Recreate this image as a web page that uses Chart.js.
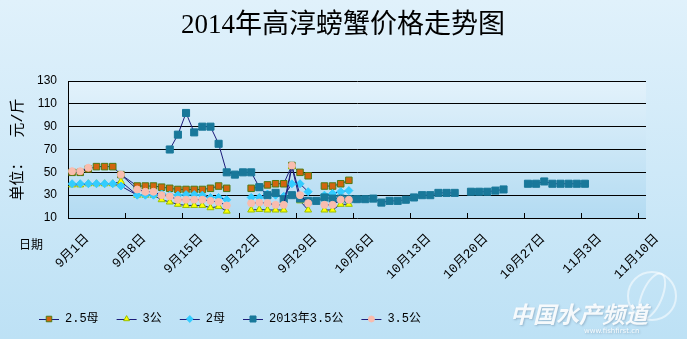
<!DOCTYPE html>
<html>
<head>
<meta charset="utf-8">
<script src="https://cdn.jsdelivr.net/npm/chart.js@4.4.1/dist/chart.umd.min.js"></script>
<style>
  html, body { margin: 0; padding: 0; }
  body { width: 687px; height: 339px; overflow: hidden; }
</style>
</head>
<body>
<canvas id="price-chart" width="687" height="339"></canvas>
<script>
/* DATA */

// 报价日期（9/8 中秋无报价）
var dates = [
    '9/1', '9/2', '9/3', '9/4', '9/5', '9/6', '9/7',
    '9/9', '9/10', '9/11', '9/12', '9/13', '9/14', '9/15',
    '9/16', '9/17', '9/18', '9/19', '9/20', '9/21', '9/22',
    '9/23', '9/24', '9/25', '9/26', '9/27', '9/28', '9/29',
    '9/30', '10/1', '10/2', '10/3', '10/4', '10/5', '10/6',
    '10/7', '10/8', '10/9', '10/10', '10/11', '10/12', '10/13',
    '10/14', '10/15', '10/16', '10/17', '10/18', '10/19', '10/20',
    '10/21', '10/22', '10/23', '10/24', '10/25', '10/26', '10/27',
    '10/28', '10/29', '10/30', '10/31', '11/1', '11/2', '11/3'
];

var tickLabels = ['9月1日', '9月8日', '9月15日', '9月22日', '9月29日', '10月6日',
    '10月13日', '10月20日', '10月27日', '11月3日', '11月10日'];

var _ = null;

var mu25 = [
    50, 50, 53, 55, 55, 55, 48,
    38, 38, 38, 37, 36, 35, 35,
    35, 35, 36, 38, 36, _, _,
    36, 37, 39, 40, 40, 56, 50,
    47, _, 38, 38, 40, 43, _,
    _, _, _, _, _, _, _,
    _, _, _, _, _, _, _,
    _, _, _, _, _, _, _,
    _, _, _, _, _, _, _
];

var gong3 = [
    39, 39, 40, 40, 40, 40, 42,
    30, 30, 30, 26, 24, 22, 21,
    21, 21, 19, 20, 16, _, _,
    17, 17.5, 17, 17, 17, 55, 25,
    17, _, 17, 17, 22, 22, _,
    _, _, _, _, _, _, _,
    _, _, _, _, _, _, _,
    _, _, _, _, _, _, _,
    _, _, _, _, _, _, _
];

var mu2 = [
    40, 40, 40, 40, 40, 40, 38,
    30, 30, 30, 31, 30, 30, 30.5,
    30.5, 30, 28, 28, 26, _, _,
    28, 28, 31, 30, 29, 40, 40,
    33, _, 30, 31.5, 33, 34, _,
    _, _, _, _, _, _, _,
    _, _, _, _, _, _, _,
    _, _, _, _, _, _, _,
    _, _, _, _, _, _, _
];

var gong35_2013 = [
    _, _, _, _, _, _, _,
    _, _, _, _, 70, 83, 102,
    85, 90, 90, 75, 50, 48, 50,
    50, 37, 30, 32, 26.5, 30, 27,
    25, 25, 28, 27, 27, 26.5, 26.5,
    26.5, 27, 23.5, 25, 25, 26, 28,
    30, 30, 32, 32, 32, _, 33,
    33, 33, 34, 35, _, _, 40,
    40, 42, 40, 40, 40, 40, 40
];

var gong35 = [
    51, 51, 54, _, _, _, 48,
    35, 33, 33, 30, 29, 26, 26,
    26, 26, 25, 24, 21, _, _,
    23, 23.5, 23, 21.5, 21.5, 56, 30,
    23, _, 21.5, 21.5, 26, 26, _,
    _, _, _, _, _, _, _,
    _, _, _, _, _, _, _,
    _, _, _, _, _, _, _,
    _, _, _, _, _, _, _
];

/* HELPERS */

// 距 9月1日 的天数
function dayOf(s) {
    var p = s.split('/');
    return (Date.UTC(2014, p[0] - 1, +p[1]) - Date.UTC(2014, 8, 1)) / 86400000;
}

// 点放在当天格子的中间
function toPoints(values) {
    return dates.map(function (s, i) {
        return { x: dayOf(s) + 0.5, y: values[i] };
    });
}

var LINE = '#1c1c7a';
var FONT_CJK = '"Liberation Mono", "Noto Sans CJK SC", sans-serif';

function series(label, values, style, radius, fill, stroke, order) {
    return {
        label: label,
        data: toPoints(values),
        borderColor: LINE,
        borderWidth: 1,
        pointStyle: style,
        pointRadius: radius,
        pointHoverRadius: radius,
        pointBackgroundColor: fill,
        pointBorderColor: stroke,
        pointBorderWidth: 1,
        order: order
    };
}

/* PLUGINS */

var background = {
    id: 'background',
    beforeDraw: function (chart) {
        var ctx = chart.ctx, a = chart.chartArea;
        ctx.save();
        var g = ctx.createLinearGradient(0, 0, 0, chart.height);
        g.addColorStop(0, '#e0f1fb');
        g.addColorStop(1, '#bde1f5');
        ctx.fillStyle = g;
        ctx.fillRect(0, 0, chart.width, chart.height);
        var p = ctx.createLinearGradient(0, a.top, 0, a.bottom);
        p.addColorStop(0, '#e3f2fb');
        p.addColorStop(1, '#b3dbf2');
        ctx.fillStyle = p;
        ctx.fillRect(a.left, a.top, a.right - a.left, a.bottom - a.top);
        ctx.restore();
    }
};

var decorations = {
    id: 'decorations',
    afterDraw: function (chart) {
        var ctx = chart.ctx, a = chart.chartArea, xs = chart.scales.x;
        ctx.save();

        // 标题
        ctx.fillStyle = '#000';
        ctx.textAlign = 'center';
        ctx.textBaseline = 'middle';
        ctx.font = '27px "Liberation Serif", "Noto Sans CJK SC", serif';
        ctx.fillText('2014年高淳螃蟹价格走势图', 343, 26);

        // 向内的刻度线
        ctx.strokeStyle = '#000';
        ctx.lineWidth = 1;
        ctx.beginPath();
        xs.ticks.forEach(function (t) {
            var px = Math.round(xs.getPixelForValue(t.value)) + 0.5;
            ctx.moveTo(px, a.bottom);
            ctx.lineTo(px, a.bottom - 5);
        });
        ctx.stroke();

        // 日期
        ctx.font = '12px ' + FONT_CJK;
        ctx.textAlign = 'left';
        ctx.fillText('日期', 19, 246);

        // 图例
        var x = 39, y = 319;
        ctx.font = '12px ' + FONT_CJK;
        chart.data.datasets.forEach(function (ds) {
            ctx.strokeStyle = LINE;
            ctx.beginPath();
            ctx.moveTo(x, y + 0.5);
            ctx.lineTo(x + 20, y + 0.5);
            ctx.stroke();
            ctx.fillStyle = ds.pointBackgroundColor;
            ctx.strokeStyle = ds.pointBorderColor;
            Chart.helpers.drawPoint(ctx, {
                pointStyle: ds.pointStyle,
                radius: ds.pointRadius * 0.85,
                borderWidth: 1
            }, x + 10, y);
            ctx.fillStyle = '#000';
            ctx.textAlign = 'left';
            ctx.fillText(ds.label, x + 26, y);
            x += 26 + ctx.measureText(ds.label).width + 18;
        });

        // 水印
        ctx.globalAlpha = 0.55;
        ctx.strokeStyle = '#ffffff';
        ctx.lineWidth = 2;
        ctx.beginPath();
        ctx.arc(652, 296, 24, 0, Math.PI * 2);
        ctx.stroke();
        ctx.beginPath();
        ctx.ellipse(652, 296, 10, 24, 0.4, 0, Math.PI * 2);
        ctx.stroke();
        ctx.globalAlpha = 0.9;
        ctx.shadowColor = 'rgba(60,90,120,0.35)';
        ctx.shadowBlur = 2;
        ctx.shadowOffsetX = 1;
        ctx.shadowOffsetY = 1;
        ctx.fillStyle = '#ffffff';
        ctx.textAlign = 'left';
        ctx.font = 'italic bold 23px "Noto Sans CJK SC", sans-serif';
        ctx.fillText('中国水产频道', 510, 314);
        ctx.font = '7px "DejaVu Sans", sans-serif';
        ctx.fillText('www.fishfirst.cn', 584, 331);
        ctx.restore();
    }
};

/* CHART */

var ctx = document.getElementById('price-chart').getContext('2d');
var priceChart = new Chart(ctx, {
    type: 'line',
    data: {
        datasets: [
            series('2.5母', mu25, 'rect', 4.6, '#d2650f', '#4f7a12', 5),
            series('3公', gong3, 'triangle', 4, '#ffff00', '#9ac000', 4),
            series('2母', mu2, 'rectRot', 4, '#33ccff', '#33ccff', 3),
            series('2013年3.5公', gong35_2013, 'rect', 5, '#19789a', '#19789a', 2),
            series('3.5公', gong35, 'circle', 3.5, '#f9bcae', '#f9bcae', 1)
        ]
    },
    options: {
        responsive: false,
        animation: false,
        events: [],
        layout: { padding: { left: 0, right: 41, top: 81, bottom: 0 } },
        plugins: {
            legend: { display: false },
            tooltip: { enabled: false }
        },
        scales: {
            x: {
                type: 'linear',
                min: 0,
                max: 71,
                grid: { display: false, drawTicks: false },
                border: { display: false },
                afterBuildTicks: function (scale) {
                    scale.ticks = tickLabels.map(function (t, i) { return { value: i * 7 }; });
                },
                afterFit: function (scale) { scale.height = 121; },
                ticks: {
                    autoSkip: false,
                    minRotation: 45,
                    maxRotation: 45,
                    labelOffset: 19,
                    padding: 13,
                    color: '#000',
                    font: { family: FONT_CJK, size: 13 },
                    callback: function (value) { return tickLabels[value / 7]; }
                }
            },
            y: {
                min: 10,
                max: 130,
                grid: { color: '#000', lineWidth: 1, drawTicks: false },
                border: { display: true, color: '#000', width: 1 },
                afterFit: function (scale) { scale.width = 68; },
                ticks: {
                    stepSize: 20,
                    padding: 11,
                    color: '#000',
                    font: { family: '"Liberation Sans Narrow", "Liberation Sans", sans-serif', size: 12 }
                },
                title: {
                    display: true,
                    text: '单位：  元/斤',
                    color: '#000',
                    padding: { top: 9, bottom: 0 },
                    font: { family: FONT_CJK, size: 15 }
                }
            }
        }
    },
    plugins: [background, decorations]
});
</script>
</body>
</html>
